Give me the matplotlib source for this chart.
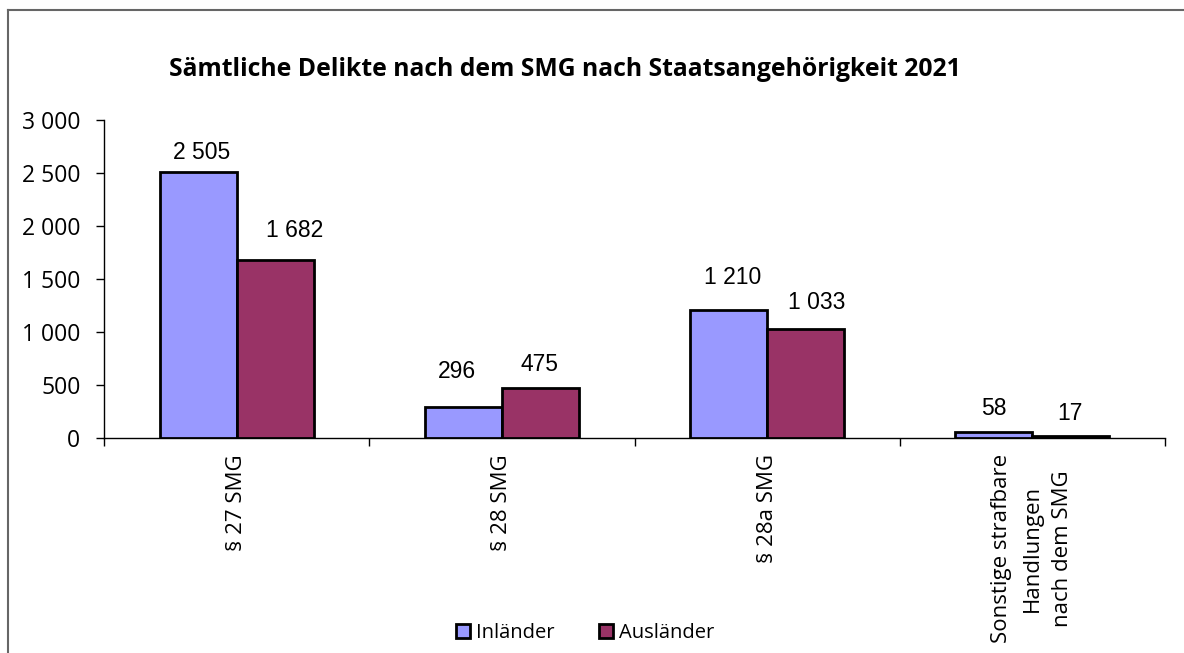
import matplotlib
matplotlib.use("Agg")
import matplotlib.pyplot as plt
from matplotlib.lines import Line2D
import numpy as np

categories = ["§ 27 SMG", "§ 28 SMG", "§ 28a SMG", "Sonstige strafbare\nHandlungen\nnach dem SMG"]
series_names = ["Inländer", "Ausländer"]
inlaender = [2505, 296, 1210, 58]
auslaender = [1682, 475, 1033, 17]
yticks = [0, 500, 1000, 1500, 2000, 2500, 3000]
title = "Sämtliche Delikte nach dem SMG nach Staatsangehörigkeit 2021"

# label placement tweaks (pixels: dx, gap above bar top), as in the original layout
label_dx_px = [[3, -6, 4, 0], [20, -1, 11, -1]]
label_gap_px = [[13, 29, 26, 17], [23, 17, 20, 16]]

def fmt(v):
    return f"{v:,}".replace(",", " ")

fig = plt.figure(figsize=(11.84, 6.53), dpi=100)
W, H = 1184, 653
PT = 72 / 100
ax = fig.add_axes([104 / W, 1 - 438 / H, (1165 - 104) / W, (438 - 120) / H])

x = np.arange(len(categories))
bw = 0.29
colors = ["#9999FF", "#993366"]
for i, (vals, c, name) in enumerate(zip([inlaender, auslaender], colors, series_names)):
    pos = x + (i - 0.5) * bw
    ax.bar(pos, vals, width=bw, color=c, edgecolor="black", linewidth=2, label=name, zorder=3)
    for j, (p, v) in enumerate(zip(pos, vals)):
        ax.annotate(fmt(v), (p, v),
                    xytext=(label_dx_px[i][j] * PT, label_gap_px[i][j] * PT),
                    textcoords="offset points",
                    ha="center", va="baseline", fontsize=16.5, family="Liberation Sans")

ax.set_xlim(-0.5, len(categories) - 0.5)
ax.set_ylim(0, 3000)
ax.set_yticks(yticks)
ax.set_yticklabels([fmt(v) for v in yticks], fontsize=16.5, family="Open Sans")
ax.tick_params(axis="y", direction="out", length=6, width=1, pad=11)
ax.set_xticks(np.arange(len(categories) + 1) - 0.5, minor=False)
ax.set_xticklabels([])
ax.tick_params(axis="x", direction="out", length=6, width=1)
for xi, lab in zip(x, categories):
    ax.text(xi, -0.05, lab, transform=ax.get_xaxis_transform(), rotation=90,
            ha="center", va="top", fontsize=16, family="Open Sans", multialignment="center",
            linespacing=1.6)
for s in ["top", "right"]:
    ax.spines[s].set_visible(False)
ax.spines["left"].set_linewidth(1)
ax.spines["bottom"].set_linewidth(1)

fig.text(565 / W, 1 - 70 / H, title, ha="center", va="center", fontsize=17.8,
         fontweight="bold", family="Open Sans")

handles = [plt.Rectangle((0, 0), 1, 1, facecolor=c, edgecolor="black", linewidth=2) for c in colors]
fig.legend(handles, series_names, loc="center", bbox_to_anchor=(585 / W, 1 - 633 / H), ncol=2,
           frameon=False, prop={"family": "Open Sans", "size": 14.5}, handlelength=0.7,
           handleheight=0.7, handletextpad=0.3, columnspacing=2.2, borderaxespad=0, borderpad=0)

fig.add_artist(Line2D([8 / W, 8 / W], [0, 1 - 10 / H], transform=fig.transFigure, color="#666666", lw=1.5))
fig.add_artist(Line2D([8 / W, 1], [1 - 10 / H, 1 - 10 / H], transform=fig.transFigure, color="#666666", lw=1.5))

fig.savefig("out.png", dpi=100)
